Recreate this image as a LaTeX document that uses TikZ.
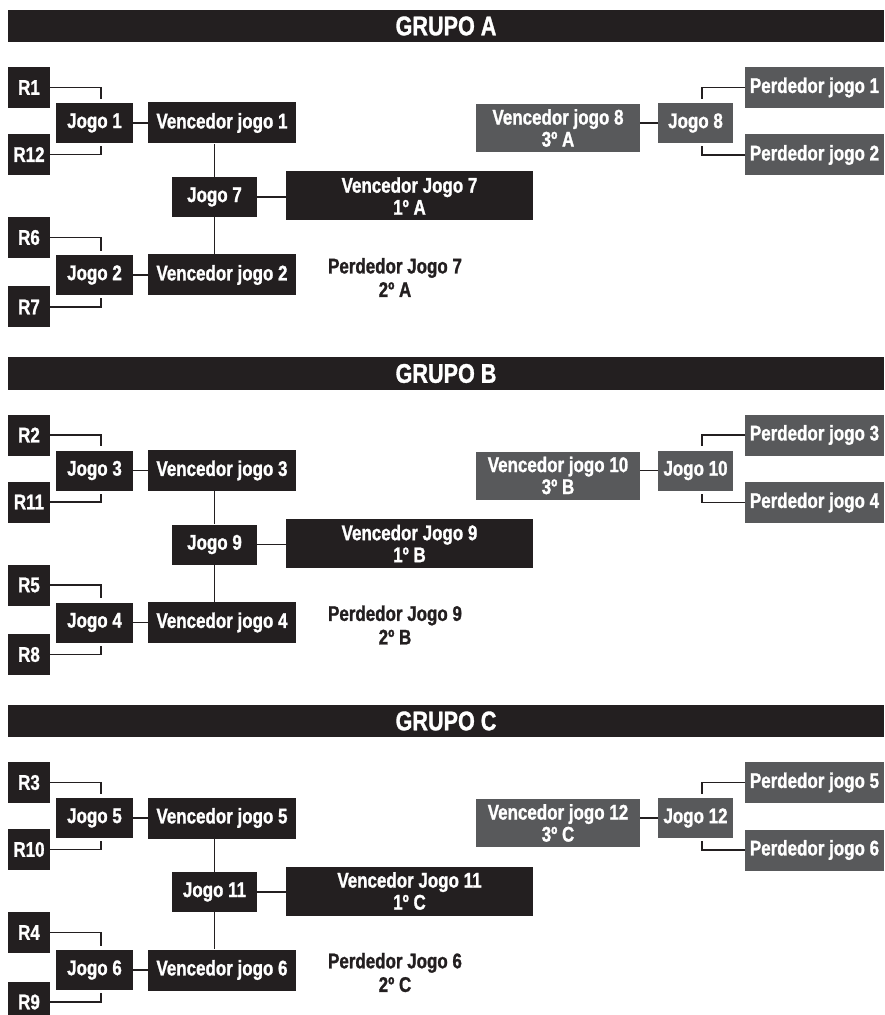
\documentclass[tikz,border=0pt]{standalone}
\usepackage{fontspec}
\setmainfont{Liberation Sans}[FakeStretch=0.8, BoldFeatures={FakeBold=1.2}]
\usetikzlibrary{calc}
\definecolor{boxblack}{HTML}{231F20}
\definecolor{boxgrey}{HTML}{58595B}

\begin{document}
\begin{tikzpicture}[x = 0.5pt, y = -0.5pt,
  box/.style = {fill=boxblack, text=white, inner sep=0pt, align=center,
                font=\fontsize{10.6pt}{11pt}\selectfont\bfseries},
  gbox/.style = {box, fill=boxgrey},
  rbox/.style = {box, minimum width=21pt, minimum height=20.5pt},
  jbox/.style = {minimum width=38.5pt, minimum height=20pt},
  vbox/.style = {box, minimum width=74pt, minimum height=20.5pt},
  wbox/.style = {box, minimum width=123.5pt, minimum height=24.5pt},
  tbox/.style = {gbox, minimum width=82pt, minimum height=24pt},
  pbox/.style = {gbox, minimum width=69.5pt, minimum height=20.5pt},
  lost/.style = {text=boxblack, align=center, inner sep=0pt,
                 font=\fontsize{10.6pt}{11.8pt}\selectfont\bfseries},
  bar/.style = {fill=boxblack, text=white, inner sep=0pt, minimum width=438pt,
                minimum height=16pt, font=\fontsize{13.5pt}{14pt}\selectfont\bfseries},
  link/.style = {draw=boxblack, line width=0.6pt}]
\useasboundingbox (0,0) rectangle (884,1015);

% grupo A
\node[bar] (barA) at (446,26) {GRUPO A};
\node[rbox] (R1) at (29,87.5) {R1};
\node[rbox] (R12) at (29,154.5) {R12};
\node[rbox] (R6) at (29,237.5) {R6};
\node[rbox] (R7) at (29,307) {R7};
\node[box, jbox] (J1) at (94.5,123) {Jogo 1};
\node[box, jbox] (J2) at (94.5,275) {Jogo 2};
\node[box, jbox, minimum width=42.5pt] (J7) at (214.5,197) {Jogo 7};
\node[vbox] (V1) at (222,123) {Vencedor jogo 1};
\node[vbox] (V2) at (222,275) {Vencedor jogo 2};
\node[wbox] (V7) at (409.5,196) {Vencedor Jogo 7\\1º A};
\node[lost] (L7) at (395,277.5) {Perdedor Jogo 7\\2º A};
\node[tbox] (V8) at (558,128) {Vencedor jogo 8\\3º A};
\node[gbox, jbox, minimum width=37.5pt] (J8) at (695.5,123) {Jogo 8};
\node[pbox] (P1) at (814.5,87.5) {Perdedor jogo 1};
\node[pbox] (P2) at (814.5,155) {Perdedor jogo 2};
\draw[link] (R1.east) -| ($(J1.north)+(6.5,-4)$);
\draw[link] (R12.east) -| ($(J1.south)+(6.5,3)$);
\draw[link] (R6.east) -| ($(J2.north)+(6.5,-4)$);
\draw[link] (R7.east) -| ($(J2.south)+(6.5,3)$);
\draw[link] (J1) -- (V1);
\draw[link] (J2) -- (V2);
\draw[link] (J7.north) -- (J7.north |- V1.south);
\draw[link] (J7.south) -- (J7.south |- V2.north);
\draw[link] (J7.east) -- (J7.east -| V7.west);
\draw[link] (P1.west) -| ($(J8.north)+(6.5,-4)$);
\draw[link] (P2.west) -| ($(J8.south)+(6.5,3)$);
\draw[link] (J8.west) -- (J8.west -| V8.east);

% grupo B
\begin{scope}[shift={(0,347.5)}]
\node[bar] (barB) at (446,26) {GRUPO B};
\node[rbox] (R2) at (29,87.5) {R2};
\node[rbox] (R11) at (29,154.5) {R11};
\node[rbox] (R5) at (29,237.5) {R5};
\node[rbox] (R8) at (29,307) {R8};
\node[box, jbox] (J3) at (94.5,123) {Jogo 3};
\node[box, jbox] (J4) at (94.5,275) {Jogo 4};
\node[box, jbox, minimum width=42.5pt] (J9) at (214.5,197) {Jogo 9};
\node[vbox] (V3) at (222,123) {Vencedor jogo 3};
\node[vbox] (V4) at (222,275) {Vencedor jogo 4};
\node[wbox] (V9) at (409.5,196) {Vencedor Jogo 9\\1º B};
\node[lost] (L9) at (395,277.5) {Perdedor Jogo 9\\2º B};
\node[tbox] (V10) at (558,128) {Vencedor jogo 10\\3º B};
\node[gbox, jbox, minimum width=37.5pt] (J10) at (695.5,123) {Jogo 10};
\node[pbox] (P3) at (814.5,87.5) {Perdedor jogo 3};
\node[pbox] (P4) at (814.5,155) {Perdedor jogo 4};
\draw[link] (R2.east) -| ($(J3.north)+(6.5,-4)$);
\draw[link] (R11.east) -| ($(J3.south)+(6.5,3)$);
\draw[link] (R5.east) -| ($(J4.north)+(6.5,-4)$);
\draw[link] (R8.east) -| ($(J4.south)+(6.5,3)$);
\draw[link] (J3) -- (V3);
\draw[link] (J4) -- (V4);
\draw[link] (J9.north) -- (J9.north |- V3.south);
\draw[link] (J9.south) -- (J9.south |- V4.north);
\draw[link] (J9.east) -- (J9.east -| V9.west);
\draw[link] (P3.west) -| ($(J10.north)+(6.5,-4)$);
\draw[link] (P4.west) -| ($(J10.south)+(6.5,3)$);
\draw[link] (J10.west) -- (J10.west -| V10.east);
\end{scope}

% grupo C
\begin{scope}[shift={(0,695)}]
\node[bar] (barC) at (446,26) {GRUPO C};
\node[rbox] (R3) at (29,87.5) {R3};
\node[rbox] (R10) at (29,154.5) {R10};
\node[rbox] (R4) at (29,237.5) {R4};
\node[rbox] (R9) at (29,307) {R9};
\node[box, jbox] (J5) at (94.5,123) {Jogo 5};
\node[box, jbox] (J6) at (94.5,275) {Jogo 6};
\node[box, jbox, minimum width=42.5pt] (J11) at (214.5,197) {Jogo 11};
\node[vbox] (V5) at (222,123) {Vencedor jogo 5};
\node[vbox] (V6) at (222,275) {Vencedor jogo 6};
\node[wbox] (V11) at (409.5,196) {Vencedor Jogo 11\\1º C};
\node[lost] (L6) at (395,277.5) {Perdedor Jogo 6\\2º C};
\node[tbox] (V12) at (558,128) {Vencedor jogo 12\\3º C};
\node[gbox, jbox, minimum width=37.5pt] (J12) at (695.5,123) {Jogo 12};
\node[pbox] (P5) at (814.5,87.5) {Perdedor jogo 5};
\node[pbox] (P6) at (814.5,155) {Perdedor jogo 6};
\draw[link] (R3.east) -| ($(J5.north)+(6.5,-4)$);
\draw[link] (R10.east) -| ($(J5.south)+(6.5,3)$);
\draw[link] (R4.east) -| ($(J6.north)+(6.5,-4)$);
\draw[link] (R9.east) -| ($(J6.south)+(6.5,3)$);
\draw[link] (J5) -- (V5);
\draw[link] (J6) -- (V6);
\draw[link] (J11.north) -- (J11.north |- V5.south);
\draw[link] (J11.south) -- (J11.south |- V6.north);
\draw[link] (J11.east) -- (J11.east -| V11.west);
\draw[link] (P5.west) -| ($(J12.north)+(6.5,-4)$);
\draw[link] (P6.west) -| ($(J12.south)+(6.5,3)$);
\draw[link] (J12.west) -- (J12.west -| V12.east);
\end{scope}
\end{tikzpicture}
\end{document}
